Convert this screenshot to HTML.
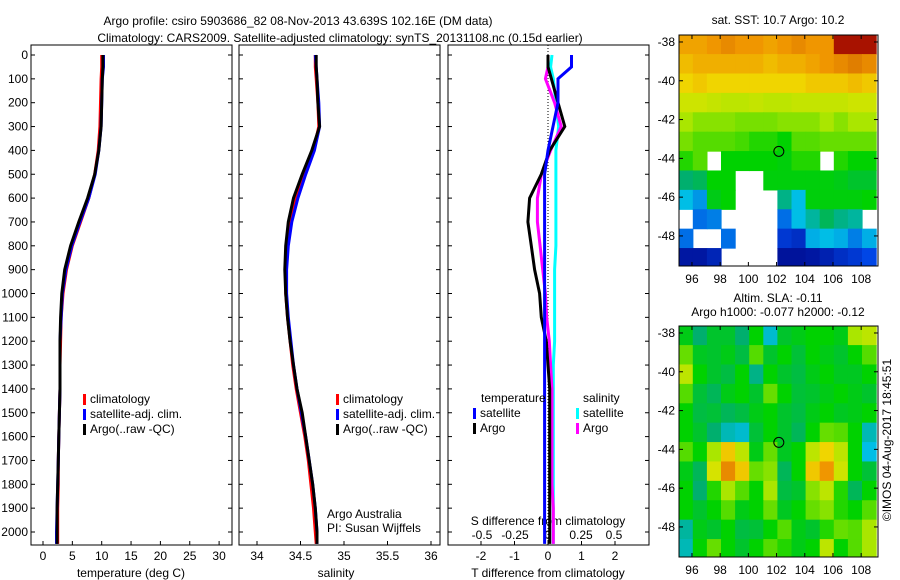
<!DOCTYPE html>
<html><head><meta charset="utf-8"><style>
body{margin:0;background:#fff;}
svg{display:block;font-family:"Liberation Sans",sans-serif;}
text{font-size:12px;fill:#000;}
</style></head><body>
<svg id="c" width="900" height="580" viewBox="0 0 900 580">
<text x="298" y="25" text-anchor="middle">Argo profile: csiro 5903686_82 08-Nov-2013 43.639S 102.16E (DM data)</text>
<text x="340" y="42" text-anchor="middle">Climatology: CARS2009. Satellite-adjusted climatology: synTS_20131108.nc (0.15d earlier)</text>
<text x="778" y="24" text-anchor="middle">sat. SST: 10.7 Argo: 10.2</text>
<text x="778" y="302" text-anchor="middle">Altim. SLA: -0.11</text>
<text x="778" y="316" text-anchor="middle">Argo h1000: -0.077 h2000: -0.12</text>
<text transform="translate(891,440) rotate(-90)" text-anchor="middle">©IMOS 04-Aug-2017 18:45:51</text>
</svg>
<script>
const depths=[0,50,100,200,300,400,500,600,700,800,900,1000,1100,1200,1300,1400,1500,1600,1700,1800,1900,2000,2050];
const tempArgo=[10.2,10.2,10.1,10.0,9.9,9.5,8.8,7.6,6.1,4.7,3.7,3.2,3.0,2.9,2.9,2.9,2.8,2.7,2.6,2.5,2.4,2.4,2.4];
const tempSat=[10.3,10.3,10.1,10.0,9.9,9.5,8.9,7.8,6.3,4.9,3.9,3.3,3.1,2.9,2.9,2.9,2.8,2.7,2.6,2.5,2.4,2.3,2.3];
const tempClim=[10.0,10.0,9.9,9.8,9.7,9.4,8.8,7.8,6.4,5.0,4.0,3.4,3.1,3.0,2.9,2.9,2.8,2.7,2.6,2.6,2.5,2.5,2.5];
const salArgo=[34.68,34.68,34.69,34.70,34.72,34.63,34.52,34.42,34.36,34.33,34.32,34.33,34.35,34.38,34.42,34.46,34.52,34.56,34.60,34.64,34.67,34.69,34.69];
const salSat=[34.67,34.68,34.69,34.71,34.72,34.66,34.56,34.47,34.40,34.36,34.34,34.34,34.36,34.39,34.42,34.46,34.51,34.56,34.60,34.64,34.67,34.69,34.69];
const salClim=[34.67,34.67,34.68,34.70,34.71,34.65,34.55,34.45,34.38,34.34,34.33,34.33,34.35,34.38,34.41,34.45,34.50,34.55,34.59,34.62,34.65,34.67,34.68];
const dTsat=[0.7,0.7,0.3,0.3,0.15,0.0,-0.1,-0.1,-0.1,-0.1,-0.1,-0.1,-0.1,-0.1,-0.1,-0.1,-0.1,-0.1,-0.1,-0.1,-0.1,-0.1,-0.1];
const dTargo=[0.0,0.0,0.1,0.3,0.5,0.05,-0.2,-0.55,-0.6,-0.5,-0.4,-0.25,-0.2,-0.05,0.0,0.05,0.05,0.05,0.05,0.05,0.05,0.05,0.05];
const dSsat=[0.03,0.02,0.04,0.06,0.08,0.06,0.06,0.06,0.06,0.06,0.05,0.05,0.05,0.05,0.04,0.04,0.04,0.04,0.04,0.04,0.04,0.04,0.04];
const dSargo=[0.0,0.0,-0.02,0.05,0.1,0.02,-0.05,-0.08,-0.08,-0.06,-0.04,-0.02,-0.01,0.01,0.02,0.03,0.03,0.03,0.03,0.03,0.04,0.04,0.04];
const depthTicks=[0,100,200,300,400,500,600,700,800,900,1000,1100,1200,1300,1400,1500,1600,1700,1800,1900,2000];
const tempTicks=[0,5,10,15,20,25,30];
const salTicks=[34,34.5,35,35.5,36];
const dTTicks=[-2,-1,0,1,2];
const dSTicks=[-0.5,-0.25,0,0.25,0.5];
const lonTicks=[96,98,100,102,104,106,108];
const latTicks=[-38,-40,-42,-44,-46,-48];
const argoLon=102.16, argoLat=-43.64;
const sstGrid=[
[.78,.78,.8,.82,.8,.8,.78,.8,.82,.8,.8,.98,.98,.98],
[.74,.76,.76,.76,.76,.76,.74,.76,.76,.78,.8,.82,.84,.82],
[.7,.72,.7,.7,.7,.7,.7,.7,.7,.72,.72,.72,.74,.72],
[.64,.64,.63,.62,.62,.63,.62,.62,.63,.63,.63,.63,.64,.64],
[.6,.58,.58,.58,.57,.57,.57,.58,.58,.58,.6,.58,.6,.6],
[.57,.55,.55,.55,.54,.52,.52,.5,.55,.55,.56,.56,.56,.56],
[.52,.55,null,.5,.5,.5,.5,.49,.52,.52,null,.52,.5,.5],
[.4,.42,.5,.5,null,null,.49,.49,.49,.49,.49,.48,.46,.46],
[.3,.25,.48,.5,null,null,null,.38,.3,.49,.49,.49,.49,.5],
[null,.2,.22,null,null,null,null,.2,.3,.36,.42,.38,.36,null],
[.2,null,null,.2,null,null,null,.12,.1,.28,.3,.28,.22,.28],
[.05,.05,.08,null,null,null,null,.04,.04,.05,.07,.1,.12,.15]];
const slaGrid=[
[.48,.4,.46,.46,.4,.5,.32,.46,.48,.5,.5,.48,.6,.62],
[.56,.47,.46,.48,.44,.55,.46,.5,.45,.5,.48,.46,.5,.55],
[.62,.5,.46,.44,.5,.38,.5,.46,.44,.48,.5,.47,.47,.5],
[.55,.45,.42,.48,.5,.46,.56,.5,.45,.46,.48,.5,.48,.46],
[.5,.44,.45,.42,.44,.48,.5,.46,.44,.48,.5,.47,.48,.5],
[.5,.46,.4,.34,.32,.45,.5,.46,.42,.5,.56,.55,.5,.34],
[.55,.5,.6,.72,.62,.48,.56,.47,.5,.62,.7,.62,.5,.3],
[.48,.42,.65,.82,.72,.56,.58,.42,.5,.72,.8,.64,.5,.45],
[.5,.4,.52,.6,.55,.5,.6,.44,.46,.58,.62,.52,.42,.5],
[.5,.46,.5,.55,.48,.5,.56,.47,.5,.56,.58,.52,.5,.55],
[.36,.48,.46,.5,.44,.45,.5,.55,.48,.46,.52,.56,.55,.6],
[.34,.5,.56,.5,.46,.5,.55,.52,.48,.5,.62,.5,.55,.6]];
const stops=[[0,[0,0,128]],[.15,[0,70,230]],[.3,[0,190,230]],[.4,[0,175,110]],[.5,[0,210,0]],[.6,[170,230,0]],[.68,[240,225,0]],[.8,[240,150,0]],[.9,[200,90,0]],[1,[160,0,0]]];
function cmap(v){for(let i=1;i<stops.length;i++){if(v<=stops[i][0]){const a=stops[i-1],b=stops[i],t=(v-a[0])/(b[0]-a[0]);return 'rgb('+a[1].map((c,k)=>Math.round(c+(b[1][k]-c)*t)).join(',')+')';}}return 'rgb(160,0,0)';}
const svg=document.getElementById('c');const NS='http://www.w3.org/2000/svg';
function mk(tag,attrs,parent){const e=document.createElementNS(NS,tag);for(const k in attrs)e.setAttribute(k,attrs[k]);(parent||svg).appendChild(e);return e;}
function txt(x,y,s,anchor,parent){const t=mk('text',{x:x,y:y,'text-anchor':anchor||'middle'},parent);t.textContent=s;return t;}
const yD=d=>55+d*0.2385;
const pTop=45,pBot=545;
function panel(name,x0,x1){const g=mk('g',{});
const r=mk('rect',{x:x0,y:pTop,width:x1-x0,height:pBot-pTop,fill:'none',stroke:'#000','stroke-width':1},g);
depthTicks.forEach(d=>{mk('line',{x1:x0,x2:x0+4,y1:yD(d),y2:yD(d),stroke:'#000'},g);mk('line',{x1:x1,x2:x1-4,y1:yD(d),y2:yD(d),stroke:'#000'},g);});return g;}
function line(g,xs,xf,color,name,w){const pts=depths.map((d,i)=>xf(xs[i]).toFixed(1)+','+yD(d).toFixed(1)).join(' ');const p=mk('polyline',{points:pts,fill:'none',stroke:color,'stroke-width':w||3},g);}
function clipTo(g,id,x0,x1){const cp=mk('clipPath',{id:id});mk('rect',{x:x0,y:pTop,width:x1-x0,height:pBot-pTop},cp);return mk('g',{'clip-path':'url(#'+id+')'},g);}
const xT=v=>43+v*5.87;
const p1=panel('temperature-panel',31,232);
const yl=mk('g',{},p1);
depthTicks.forEach(d=>txt(28,yD(d)+4,String(d),'end',yl));
tempTicks.forEach(v=>{mk('line',{x1:xT(v),x2:xT(v),y1:pBot,y2:pBot-4,stroke:'#000'},p1);txt(xT(v),560,String(v),'middle',p1);});
const xt1=txt(131,577,'temperature (deg C)','middle',p1);
const c1=clipTo(p1,'cp1',31,232);
line(c1,tempClim,xT,'#f00','temp-climatology');line(c1,tempSat,xT,'#00f','temp-satellite-adj');line(c1,tempArgo,xT,'#000','temp-argo');
function legend(g,x,y,items){items.forEach((it,i)=>{const yy=y+i*15;const m=mk('rect',{x:x,y:yy-9,width:3,height:11,fill:it[0]},g);const t=txt(x+7,yy,it[1],'start',g);});}
legend(p1,83,403,[['#f00','climatology'],['#00f','satellite-adj. clim.'],['#000','Argo(..raw -QC)']]);
const xS=v=>257+(v-34)*87;
const p2=panel('salinity-panel',239,440);
salTicks.forEach(v=>{mk('line',{x1:xS(v),x2:xS(v),y1:pBot,y2:pBot-4,stroke:'#000'},p2);txt(xS(v),560,String(v),'middle',p2);});
const xt2=txt(336,577,'salinity','middle',p2);
const c2=clipTo(p2,'cp2',239,440);
line(c2,salClim,xS,'#f00','sal-climatology');line(c2,salSat,xS,'#00f','sal-satellite-adj');line(c2,salArgo,xS,'#000','sal-argo');
legend(p2,336,403,[['#f00','climatology'],['#00f','satellite-adj. clim.'],['#000','Argo(..raw -QC)']]);
const cr1=txt(327,518,'Argo Australia','start',p2);
const cr2=txt(327,532,'PI: Susan Wijffels','start',p2);
const xdT=v=>548+v*33.5;const xdS=v=>548+v*132;
const p3=panel('difference-panel',448,649);
dTTicks.forEach(v=>{mk('line',{x1:xdT(v),x2:xdT(v),y1:pBot,y2:pBot-4,stroke:'#000'},p3);txt(xdT(v),560,String(v),'middle',p3);});
dSTicks.forEach(v=>txt(xdS(v),539,String(v),'middle',p3));
const st=txt(548,525,'S difference from climatology','middle',p3);
const tt=txt(548,577,'T difference from climatology','middle',p3);
mk('line',{x1:548,x2:548,y1:pTop,y2:pBot,stroke:'#000','stroke-dasharray':'1,2'},p3);
const c3=clipTo(p3,'cp3',448,649);
line(c3,dSsat,xdS,'#0ff','s-diff-satellite');line(c3,dSargo,xdS,'#f0f','s-diff-argo');
line(c3,dTargo,xdT,'#000','t-diff-argo');line(c3,dTsat,xdT,'#00f','t-diff-satellite');
txt(481,402,'temperature','start',p3);txt(583,402,'salinity','start',p3);
legend(p3,473,417,[['#00f','satellite'],['#000','Argo']]);
legend(p3,576,417,[['#0ff','satellite'],['#f0f','Argo']]);
function map(name,grid,y0,y1){const g=mk('g',{});
const x0=679,x1=878,lon0=95.08,pxLon=14.1,lat0=-37.64,pxLat=(y1-y0)/11.91;
const X=l=>x0+(l-lon0)*pxLon,Y=la=>y0+(lat0-la)*pxLat;
const id='m'+y0;const cp=mk('clipPath',{id:id});mk('rect',{x:x0,y:y0,width:x1-x0,height:y1-y0},cp);
const cg=mk('g',{'clip-path':'url(#'+id+')'},g);
grid.forEach((row,i)=>row.forEach((v,j)=>{if(v===null)return;const r=mk('rect',{x:X(lon0+j)-0.3,y:Y(lat0-i)-0.3,width:pxLon+0.6,height:pxLat+0.6,fill:cmap(v)},cg);}));
mk('rect',{x:x0,y:y0,width:x1-x0,height:y1-y0,fill:'none',stroke:'#000'},g);
lonTicks.forEach(l=>{mk('line',{x1:X(l),x2:X(l),y1:y1,y2:y1-4,stroke:'#000'},g);mk('line',{x1:X(l),x2:X(l),y1:y0,y2:y0+4,stroke:'#000'},g);txt(X(l),y1+17,String(l),'middle',g);});
latTicks.forEach(la=>{mk('line',{x1:x0,x2:x0+4,y1:Y(la),y2:Y(la),stroke:'#000'},g);mk('line',{x1:x1,x2:x1-4,y1:Y(la),y2:Y(la),stroke:'#000'},g);txt(x0-4,Y(la)+4,String(la),'end',g);});
const c=mk('circle',{cx:X(argoLon),cy:Y(argoLat),r:5,fill:'none',stroke:'#000'},g);}
map('sst-map',sstGrid,35,266);
map('sla-map',slaGrid,326,557);
</script>
</body></html>
